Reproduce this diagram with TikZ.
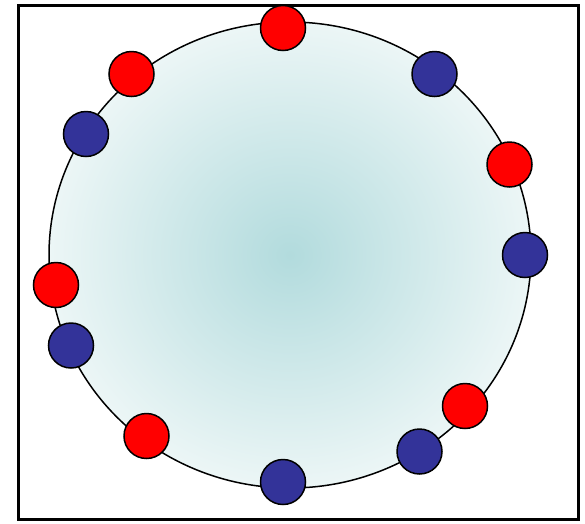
\documentclass[tikz,border=0pt]{standalone}
\definecolor{dotred}{RGB}{255,0,0}
\definecolor{dotblue}{RGB}{51,51,153}
\definecolor{innerteal}{RGB}{178,219,221}
\definecolor{outerteal}{RGB}{236,246,246}
\tikzset{
  frame/.style={draw=black, line width=3.5pt},
  ring/.style={draw=black, line width=1.5pt, inner color=innerteal, outer color=outerteal},
  dot/.style={circle, draw=black, line width=1.5pt, minimum size=45pt, inner sep=0pt},
  reddot/.style={dot, fill=dotred},
  bluedot/.style={dot, fill=dotblue}
}
\begin{document}
\begin{tikzpicture}[x=1pt,y=-1pt]
\useasboundingbox (0,0) rectangle (585,523);
\draw[frame] (18.5,5.5) rectangle (578.5,519.5);
\draw[ring] (290,255) ellipse [x radius=241pt, y radius=233pt];
\node[reddot] (r1) at (283,28) {};
\node[bluedot] (b1) at (434.5,74) {};
\node[reddot] (r2) at (509.5,164.5) {};
\node[bluedot] (b2) at (525,255) {};
\node[reddot] (r3) at (465,406) {};
\node[bluedot] (b3) at (419.5,451.5) {};
\node[bluedot] (b4) at (283,482) {};
\node[reddot] (r4) at (146.5,436) {};
\node[bluedot] (b5) at (71,345.5) {};
\node[reddot] (r5) at (56,285) {};
\node[bluedot] (b6) at (86,134) {};
\node[reddot] (r6) at (131.5,74) {};
\end{tikzpicture}
\end{document}
